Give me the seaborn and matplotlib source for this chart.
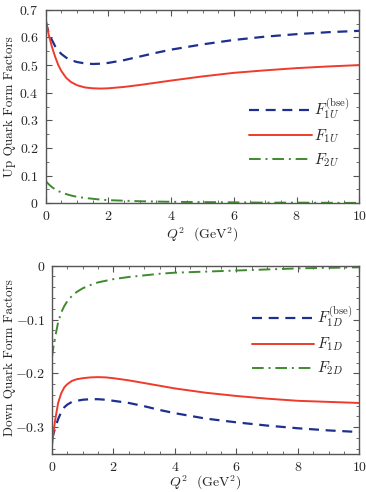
import pandas as pd
import matplotlib
matplotlib.use('Agg')
import matplotlib.pyplot as plt
import seaborn as sns
from matplotlib.ticker import MultipleLocator, FuncFormatter

# -----------------------------
# Form factor data
# -----------------------------
q2 = [0, 0.05, 0.1, 0.2, 0.3, 0.4, 0.5, 0.65, 0.8, 1, 1.25, 1.5, 1.75, 2,
      2.5, 3, 3.5, 4, 5, 6, 7, 8, 9, 10]

f1u_bse = [0.655, 0.635, 0.615, 0.59, 0.568, 0.552, 0.54, 0.527, 0.518, 0.511,
           0.506, 0.504, 0.505, 0.508, 0.518, 0.531, 0.544, 0.556, 0.575, 0.591,
           0.603, 0.612, 0.619, 0.624]
f1u = [0.668, 0.635, 0.607, 0.565, 0.53, 0.5, 0.478, 0.454, 0.439, 0.427,
       0.419, 0.416, 0.415, 0.416, 0.421, 0.428, 0.436, 0.444, 0.459, 0.472,
       0.481, 0.489, 0.495, 0.5]
f2u = [0.08, 0.074, 0.068, 0.058, 0.05, 0.044, 0.039, 0.033, 0.028, 0.023,
       0.019, 0.016, 0.013, 0.011, 0.009, 0.007, 0.006, 0.005, 0.004, 0.003,
       0.002, 0.002, 0.0015, 0.001]

f1d_bse = [-0.322, -0.312, -0.302, -0.285, -0.272, -0.263, -0.258, -0.253, -0.251, -0.249,
           -0.248, -0.248, -0.249, -0.251, -0.255, -0.261, -0.268, -0.274, -0.284, -0.291,
           -0.297, -0.302, -0.306, -0.309]
f1d = [-0.335, -0.31, -0.288, -0.255, -0.237, -0.226, -0.22, -0.214, -0.211, -0.209,
       -0.2075, -0.207, -0.2075, -0.209, -0.213, -0.218, -0.223, -0.228, -0.236, -0.242,
       -0.247, -0.251, -0.253, -0.255]
f2d = [-0.17, -0.15, -0.134, -0.105, -0.087, -0.075, -0.066, -0.056, -0.049, -0.042,
       -0.036, -0.031, -0.028, -0.025, -0.021, -0.018, -0.015, -0.013, -0.011, -0.009,
       -0.007, -0.005, -0.004, -0.003]

up_labels = [r'$F_{1U}^{(\mathrm{bse})}$', r'$F_{1U}$', r'$F_{2U}$']
down_labels = [r'$F_{1D}^{(\mathrm{bse})}$', r'$F_{1D}$', r'$F_{2D}$']

# -----------------------------
# Style
# -----------------------------
sns.set_style('ticks')
plt.rcParams['font.family'] = ['cmr10', 'DejaVu Serif']
plt.rcParams['mathtext.fontset'] = 'cm'
plt.rcParams['axes.formatter.use_mathtext'] = True

colors = ['#1f2f8f', '#ee3b2b', '#3f8a2f']
styles = [(0, (4.5, 3)), '-', (0, (6, 2.5, 1, 2.5))]
widths = [1.6, 1.4, 1.4]

fig = plt.figure(figsize=(3.66, 4.92), dpi=100)
ax1 = fig.add_axes([0.125, 0.587, 0.857, 0.393])
ax2 = fig.add_axes([0.142, 0.077, 0.840, 0.383])

fmt = FuncFormatter(lambda v, pos: '$%g$' % round(v, 3))


def draw(ax, series, labels, anchor, xpad):
    for vals, lab, c, ls, lw in zip(series, labels, colors, styles, widths):
        df = pd.DataFrame({'q2': q2, 'val': vals})
        sns.lineplot(data=df, x='q2', y='val', ax=ax, color=c, linestyle=ls,
                     linewidth=lw, label=lab)
    ax.set_xlim(0, 10)
    ax.xaxis.set_major_locator(MultipleLocator(2))
    ax.xaxis.set_minor_locator(MultipleLocator(0.5))
    ax.xaxis.set_major_formatter(fmt)
    ax.yaxis.set_major_formatter(fmt)
    ax.tick_params(which='both', direction='in', top=True, right=True,
                   labelsize=10, color='#555555')
    ax.tick_params(which='major', length=4, pad=5)
    ax.tick_params(which='minor', length=2)
    for sp in ax.spines.values():
        sp.set_color('#555555')
        sp.set_linewidth(1.0)
    ax.set_xlabel(r'$Q^2$  (GeV$^2$)', fontsize=10, labelpad=xpad)
    ax.legend(frameon=False, fontsize=11, handlelength=4.1, labelspacing=0.42,
              handletextpad=0.15, loc='center left', bbox_to_anchor=anchor)


draw(ax1, [f1u_bse, f1u, f2u], up_labels, (0.605, 0.363), 2)
ax1.set_ylim(0, 0.7)
ax1.yaxis.set_major_locator(MultipleLocator(0.1))
ax1.yaxis.set_minor_locator(MultipleLocator(0.05))
ax1.set_ylabel('Up Quark Form Factors', fontsize=9.5)
ax1.yaxis.set_label_coords(-0.094, 0.5)

draw(ax2, [f1d_bse, f1d, f2d], down_labels, (0.605, 0.6), 0)
ax2.set_ylim(-0.35, 0)
ax2.yaxis.set_major_locator(MultipleLocator(0.1))
ax2.yaxis.set_minor_locator(MultipleLocator(0.02))
ax2.set_ylabel('Down Quark Form Factors', fontsize=9.5)
ax2.yaxis.set_label_coords(-0.117, 0.51)

plt.savefig('out.png', dpi=100)
